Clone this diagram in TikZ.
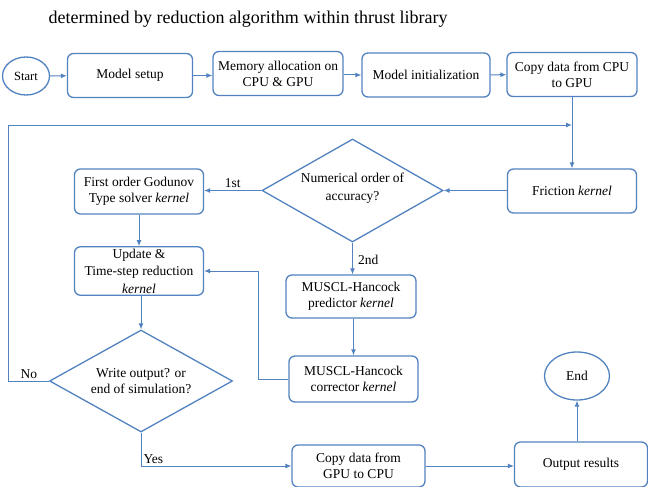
\documentclass[tikz,border=0pt]{standalone}
\usepackage{fontspec}
\newfontfamily\flowfont{Liberation Serif}
\usetikzlibrary{arrows.meta, positioning, shapes.geometric}
\definecolor{flowblue}{HTML}{5283C0}

\begin{document}
\begin{tikzpicture}[x=1pt, y=-1pt,
    font=\flowfont\fontsize{13.5}{16}\selectfont,
    box/.style={rectangle, rounded corners=6pt, draw=flowblue, line width=1.3pt,
                fill=white, align=center, inner sep=2pt, minimum width=129pt, minimum height=44pt},
    term/.style={ellipse, draw=flowblue, line width=1.3pt, fill=white, inner sep=0pt},
    decision/.style={diamond, draw=flowblue, line width=1.3pt, fill=white, inner sep=0pt},
    arrow/.style={-{Latex[length=6pt, width=5pt]}, line width=1pt, draw=flowblue},
    flowlabel/.style={inner sep=2pt}
  ]
    \useasboundingbox (0,0) rectangle (648,487);

    \node[anchor=west, font=\flowfont\fontsize{18}{21}\selectfont] (title) at (45,19)
      {determined by reduction algorithm within thrust library};

    % top row
    \node[term, minimum width=47pt, minimum height=38pt, font=\flowfont\fontsize{12.5}{15}\selectfont]
      (start) at (26,76) {Start};
    \node[box, minimum width=125pt] (setup)  at (130,75.5) {Model setup};
    \node[box, minimum width=130pt] (memory) at (278,73.5) {Memory allocation on\\CPU \& GPU};
    \node[box, minimum width=128pt] (init)   at (426,75)   {Model initialization};
    \node[box, minimum width=130pt] (copyin) at (572,74.5) {Copy data from CPU\\to GPU};

    % time loop
    \node[box] (friction) at (572,191) {Friction \textit{kernel}};
    \node[decision, minimum width=181pt, minimum height=103pt] (order) at (352.5,190.5) {};
    \node[align=center, font=\flowfont\fontsize{13.5}{18}\selectfont] (ordertext)
      at ([yshift=2pt]order) {Numerical order of\\accuracy?};
    \node[box, minimum height=45pt] (first) at (139,191.5)
      {First order Godunov\\Type solver \textit{kernel}};
    \node[box, minimum height=47pt, font=\flowfont\fontsize{13.5}{17.5}\selectfont] (update) at (139,271)
      {Update \&\\Time-step reduction\\\textit{kernel}};
    \node[box, minimum width=130pt, minimum height=43pt] (predictor) at (351,296.5)
      {MUSCL-Hancock\\predictor \textit{kernel}};
    \node[box, minimum height=46pt] (corrector) at (353.5,379)
      {MUSCL-Hancock\\corrector \textit{kernel}};
    \node[decision, minimum width=183pt, minimum height=102pt] (write) at (141,381) {};
    \node[align=center] (writetext) at (write) {Write output? or\\end of simulation?};

    % output
    \node[box, minimum width=133pt, minimum height=42pt] (copyout) at (358.5,466)
      {Copy data from\\GPU to CPU};
    \node[box, minimum width=133pt, minimum height=45pt] (output) at (581,464.5) {Output results};
    \node[term, minimum width=65pt, minimum height=48pt] (finish) at (577,376) {End};

    \coordinate (merge) at (572,125);

    \draw[arrow] (start) -- (setup);
    \draw[arrow] (setup) -- (memory.west |- setup);
    \draw[arrow] (memory.east |- init) -- (init);
    \draw[arrow] (init) -- (copyin);
    \draw[arrow] (copyin) -- (friction);
    \draw[arrow] (friction.west |- order.east) -- (order.east);
    \draw[arrow] (order.west) -- (first.east |- order.west)
      node[midway, above, flowlabel] {1st};
    \draw[arrow] (first) -- (first |- update.north);
    \draw[arrow] (order.south) -- (predictor.north -| order.south)
      node[pos=0.55, right=3pt, flowlabel] {2nd};
    \draw[arrow] (predictor.south -| corrector) -- (corrector.north);
    \draw[arrow] (corrector.west) -- ++(-30,0) |- (update.east);
    \draw[arrow] (update.south -| write) -- (write.north);
    \draw[arrow] (write.west) -- ++(-40,0)
      node[pos=0.5, above, flowlabel] {No} |- (merge);
    \draw[arrow] (write.south) |- (copyout.west)
      node[pos=0.5, above right, flowlabel] {Yes};
    \draw[arrow] (copyout) -- (output.west |- copyout);
    \draw[arrow] (output.north -| finish) -- (finish.south);
\end{tikzpicture}
\end{document}
